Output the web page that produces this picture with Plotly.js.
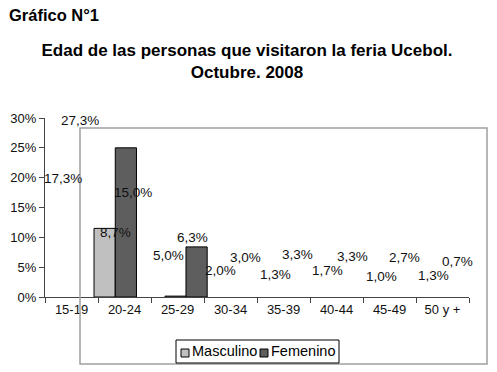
<!DOCTYPE html>
<html>
<head>
<meta charset="utf-8">
<script src="https://cdn.plot.ly/plotly-3.0.1.min.js"></script>
<style>html,body{margin:0;padding:0;background:#fff;}#chart{width:497px;height:372px;}</style>
</head>
<body>
<div id="chart"></div>
<script>
// ---- data ----
var categories = ["15-19", "20-24", "25-29", "30-34", "35-39", "40-44", "45-49", "50 y +"];
var seriesNames = ["Masculino", "Femenino"];
// bar heights as drawn in the picture (%)
var barsMasculino = [null, 11.5, 0.15, null, null, null, null, null];
var barsFemenino  = [null, 25.0, 8.4, null, null, null, null, null];
// data labels printed on the picture (%)
var labelsMasculino = [17.3, 8.7, 5.0, 2.0, 1.3, 1.7, 1.0, 1.3];
var labelsFemenino  = [27.3, 15.0, 6.3, 3.0, 3.3, 3.3, 2.7, 0.7];
var yTicks = [0, 5, 10, 15, 20, 25, 30];

// ---- style ----
var FONT = "Arial, 'Liberation Sans', sans-serif";
var colM = "#c0c0c0", colF = "#5e5e5e";
var offM = [0, -0.575, -0.236, 0, 0, 0, 0, 0];
var offF = [0, -0.174, 0.16, 0, 0, 0, 0, 0];
var nudgeM = {dx: [-9, -9, -9, -10, -8, -9, -8, -9], dy: [15, 13, 12, 15, 15, 16, 15, 14]};
var nudgeF = {dx: [8, 8, 15, 15, 14, 16, 15, 15], dy: [14, 15, 22, 22, 23, 21, 23, 31]};

function fmt(v) { return v.toFixed(1).replace('.', ',') + '%'; }

var traces = [
  {type: 'bar', name: seriesNames[0], x: categories, y: barsMasculino, width: 0.4, offset: offM,
   marker: {color: colM, line: {color: '#000', width: 1}}, showlegend: false},
  {type: 'bar', name: seriesNames[1], x: categories, y: barsFemenino, width: 0.4, offset: offF,
   marker: {color: colF, line: {color: '#000', width: 1}}, showlegend: false}
];

var annotations = [];
categories.forEach(function (c, i) {
  annotations.push({x: c, y: labelsMasculino[i], xref: 'x', yref: 'y', text: fmt(labelsMasculino[i]),
    showarrow: false, xshift: nudgeM.dx[i], yshift: nudgeM.dy[i], font: {family: FONT, size: 13.5, color: '#111'}});
  annotations.push({x: c, y: labelsFemenino[i], xref: 'x', yref: 'y', text: fmt(labelsFemenino[i]),
    showarrow: false, xshift: nudgeF.dx[i], yshift: nudgeF.dy[i], font: {family: FONT, size: 13.5, color: '#111'}});
});

// pixel -> paper helpers (plot area: x 45..469, y 118..297)
function px(x) { return (x - 45) / 424; }
function py(y) { return (297 - y) / 179; }

annotations.push({xref: 'paper', yref: 'paper', x: px(7), y: py(15), xanchor: 'left', yanchor: 'middle',
  text: '<b>Gráfico N°1</b>', showarrow: false, font: {family: FONT, size: 16.5, color: '#000'}});

// custom legend
annotations.push({xref: 'paper', yref: 'paper', x: px(190), y: py(351), xanchor: 'left', yanchor: 'middle',
  text: seriesNames[0], showarrow: false, font: {family: FONT, size: 14.5, color: '#000'}});
annotations.push({xref: 'paper', yref: 'paper', x: px(269), y: py(351), xanchor: 'left', yanchor: 'middle',
  text: seriesNames[1], showarrow: false, font: {family: FONT, size: 14.5, color: '#000'}});

var shapes = [
  {type: 'rect', xref: 'paper', yref: 'paper', x0: px(80), x1: px(487), y0: py(364), y1: py(128),
   line: {color: '#a0a0a0', width: 1.5}, layer: 'above'},
  {type: 'rect', xref: 'paper', yref: 'paper', x0: px(176), x1: px(339), y0: py(363), y1: py(340),
   line: {color: '#000', width: 1}, fillcolor: '#fff', layer: 'above'},
  {type: 'rect', xref: 'paper', yref: 'paper', x0: px(181), x1: px(189), y0: py(357), y1: py(349),
   line: {color: '#000', width: 1}, fillcolor: colM, layer: 'above'},
  {type: 'rect', xref: 'paper', yref: 'paper', x0: px(260), x1: px(268), y0: py(357), y1: py(349),
   line: {color: '#000', width: 1}, fillcolor: colF, layer: 'above'}
];

var layout = {
  width: 497, height: 372,
  margin: {l: 45, r: 28, t: 118, b: 75, pad: 0},
  paper_bgcolor: '#fff', plot_bgcolor: '#fff',
  barmode: 'overlay',
  showlegend: false,
  title: {text: '<b>Edad de las personas que visitaron la feria Ucebol.<br>Octubre. 2008</b>',
    xref: 'container', yref: 'container', x: 0.497, xanchor: 'center', y: 1 - 56 / 372, yanchor: 'top',
    font: {family: FONT, size: 17, color: '#000'}},
  xaxis: {type: 'category', categoryorder: 'array', categoryarray: categories, range: [-0.5, 7.5],
    showline: true, linecolor: '#444', linewidth: 1, ticks: 'outside', tickson: 'boundaries',
    ticklen: 5, tickcolor: '#444', showgrid: false, zeroline: false,
    tickfont: {family: FONT, size: 13, color: '#111'}, fixedrange: true},
  yaxis: {range: [0, 30], tickvals: yTicks, ticktext: yTicks.map(function (v) { return v + '%'; }),
    showline: true, linecolor: '#444', linewidth: 1, ticks: 'outside', ticklen: 5, tickcolor: '#444',
    showgrid: false, zeroline: false, tickfont: {family: FONT, size: 13, color: '#111'}, fixedrange: true},
  annotations: annotations,
  shapes: shapes
};

Plotly.newPlot('chart', traces, layout, {staticPlot: true, displayModeBar: false});
</script>
</body>
</html>
